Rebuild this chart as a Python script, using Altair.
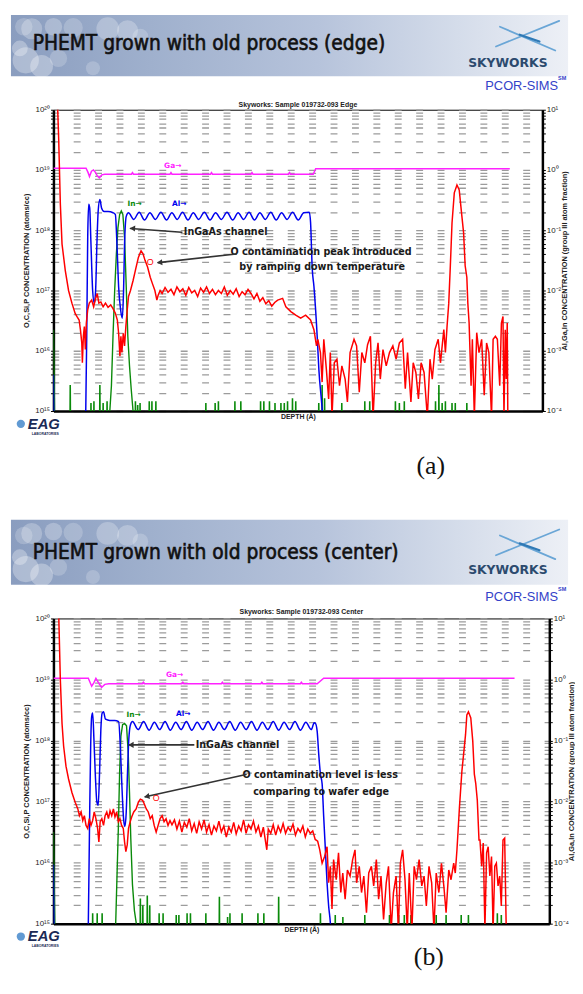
import altair as alt
import pandas as pd

SANS = "Liberation Sans, Arial, Helvetica, sans-serif"
NARROW = "DejaVu Sans Condensed, Liberation Sans Narrow, Arial Narrow, sans-serif"
SERIF = "Liberation Serif, Times New Roman, serif"
WIDE = "DejaVu Sans, Verdana, sans-serif"

# ---------------- texts ----------------
slide_titles = ["PHEMT grown with old process (edge)", "PHEMT grown with old process (center)"]
sample_titles = ["Skyworks: Sample 019732-093 Edge", "Skyworks: Sample 019732-093 Center"]
captions = ["(a)", "(b)"]
left_title = "O,C,Si,P CONCENTRATION (atoms/cc)"
right_title = "Al,Ga,In CONCENTRATION (group III atom fraction)"
x_title = "DEPTH (Å)"
left_decades = [15, 16, 17, 18, 19, 20]
left_labels = ["10¹⁵", "10¹⁶", "10¹⁷", "10¹⁸", "10¹⁹", "10²⁰"]
right_decades = [-4, -3, -2, -1, 0, 1]
right_labels = ["10⁻⁴", "10⁻³", "10⁻²", "10⁻¹", "10⁰", "10¹"]
notes_edge = ["InGaAs channel", "O contamination peak introduced", "by ramping down temperature"]
notes_center = ["InGaAs channel", "O contamination level is less", "comparing to wafer edge"]

# ---------------- data: (depth Å, log10 value) ----------------
# O (left axis, atoms/cc) -- edge
o_edge = [(37, 20.3), (53, 19.52), (70, 18.43), (87, 17.77), (120, 17.33), (153, 17.0), (187, 16.79),
          (220, 16.62), (237, 16.57), (260, 16.51), (273, 16.35), (287, 16.13), (293, 15.80), (303, 16.24),
          (313, 16.40), (323, 16.02), (333, 16.46), (347, 16.68), (363, 16.79), (387, 16.84), (407, 16.73),
          (427, 16.87), (443, 16.95), (460, 16.79), (480, 16.81), (503, 16.73), (527, 16.79), (553, 16.72),
          (580, 16.76), (603, 16.70), (627, 16.62), (647, 16.51), (660, 16.29), (673, 15.91), (683, 16.24),
          (693, 15.97), (707, 16.29), (720, 16.08), (733, 16.40), (747, 16.68), (760, 16.90), (780, 17.0),
          (807, 17.17), (833, 17.36), (860, 17.55), (887, 17.66), (907, 17.61), (927, 17.50), (953, 17.39),
          (980, 17.22), (1003, 17.11), (1027, 17.0), (1047, 16.84), (1060, 16.92), (1080, 17.0),
          (1100, 16.95), (1130, 17.05), (1160, 16.97), (1190, 17.02), (1220, 16.93), (1250, 17.06),
          (1280, 16.98), (1310, 17.03), (1340, 16.92), (1370, 17.05), (1400, 16.96), (1430, 17.0),
          (1460, 16.9), (1490, 17.04), (1520, 16.97), (1550, 17.06), (1580, 16.95), (1610, 17.02),
          (1640, 16.93), (1670, 17.0), (1700, 16.95), (1730, 17.06), (1760, 16.92), (1790, 17.0),
          (1820, 16.94), (1850, 17.03), (1880, 16.9), (1910, 16.98), (1940, 16.93), (1970, 17.02),
          (2000, 16.95), (2030, 16.86), (2060, 16.95), (2090, 16.82), (2120, 16.88), (2150, 16.78),
          (2180, 16.83), (2210, 16.74), (2240, 16.8), (2270, 16.84), (2320, 16.87), (2353, 16.73),
          (2403, 16.65), (2453, 16.59), (2503, 16.54), (2553, 16.59), (2603, 16.51), (2637, 16.35),
          (2663, 16.08), (2677, 16.19), (2703, 15.97), (2720, 15.48), (2737, 16.19), (2763, 15.69),
          (2786, 15.2), (2803, 15.97), (2820, 14.9), (2843, 15.80), (2870, 15.86), (2896, 15.42),
          (2920, 15.75), (2953, 15.53), (2976, 15.15), (3003, 15.97), (3043, 16.19), (3069, 16.08),
          (3096, 15.31), (3122, 15.97), (3152, 15.80), (3180, 16.1), (3209, 16.24), (3236, 14.9),
          (3262, 15.80), (3286, 16.13), (3309, 15.53), (3336, 16.02), (3369, 15.75), (3402, 15.97),
          (3436, 16.08), (3469, 15.86), (3502, 16.13), (3535, 16.19), (3562, 15.37), (3585, 15.97),
          (3619, 15.15), (3642, 15.80), (3669, 15.64), (3695, 15.2), (3722, 15.80), (3752, 15.64),
          (3785, 14.9), (3812, 15.86), (3835, 15.53), (3862, 16.02), (3895, 16.19), (3918, 15.80),
          (3952, 16.35), (3968, 15.97), (3985, 16.41), (4002, 16.79), (4018, 17.41), (4035, 18.12),
          (4058, 18.62), (4085, 18.75), (4108, 18.67), (4135, 18.23), (4152, 17.96), (4168, 17.41),
          (4185, 17.22), (4195, 16.79), (4208, 16.46), (4228, 15.42), (4241, 16.19), (4261, 14.9),
          (4285, 16.3), (4308, 15.97), (4335, 16.19), (4361, 15.26), (4385, 16.13), (4408, 15.97),
          (4435, 14.9), (4451, 16.19), (4474, 16.24), (4494, 16.19), (4518, 15.42), (4535, 16.46),
          (4551, 16.57), (4561, 14.9), (4574, 16.35), (4584, 15.53), (4594, 16.46), (4600, 14.9)]

# group III atom fraction (right axis) -- edge
ga_edge = [(0, 0.03), (330, 0.03), (350, -0.04), (365, -0.11), (385, -0.02), (405, 0.0), (425, -0.04),
           (445, -0.10), (465, -0.13), (490, -0.08), (520, -0.07), (790, -0.07), (800, -0.045), (810, -0.07),
           (1180, -0.07), (1190, -0.045), (1200, -0.07), (1590, -0.07), (1600, -0.045), (1610, -0.07),
           (2000, -0.07), (2010, -0.045), (2020, -0.07), (2380, -0.07), (2390, -0.045), (2400, -0.07),
           (2630, -0.07), (2655, 0.02), (4620, 0.02)]
al_edge = [(0, -3.4), (8, -4.5), (320, -4.5), (327, -4.02), (337, -2.76), (347, -1.12), (357, -0.57),
           (367, -0.63), (380, -1.23), (397, -2.0), (413, -2.21), (427, -2.0), (440, -1.23), (453, -0.68),
           (470, -0.49), (487, -0.63), (513, -0.69), (553, -0.69), (603, -0.71), (627, -0.74), (643, -1.23),
           (660, -1.94), (680, -2.32), (697, -2.46), (710, -2.0), (720, -1.23), (737, -0.77), (760, -0.71),
           (813, -0.82), (868, -0.70), (922, -0.83), (977, -0.71), (1032, -0.82), (1088, -0.70),
           (1145, -0.83), (1199, -0.71), (1253, -0.82), (1307, -0.70), (1362, -0.83), (1416, -0.71),
           (1470, -0.82), (1528, -0.70), (1585, -0.83), (1642, -0.71), (1700, -0.82), (1757, -0.70),
           (1815, -0.83), (1870, -0.71), (1925, -0.82), (1980, -0.70), (2035, -0.83), (2090, -0.71),
           (2145, -0.82), (2200, -0.70), (2255, -0.83), (2310, -0.71), (2365, -0.82), (2421, -0.70),
           (2478, -0.83), (2534, -0.71), (2590, -0.70), (2603, -0.87), (2620, -1.64), (2637, -1.93),
           (2670, -2.76), (2687, -3.31), (2720, -3.96), (2740, -4.5)]
in_edge = [(0, -2.65), (8, -3.6), (14, -4.5), (560, -4.5), (570, -4.02), (587, -3.58), (603, -2.76),
           (620, -2.0), (637, -1.4), (653, -0.96), (670, -0.74), (687, -0.68), (703, -0.74), (720, -1.12),
           (737, -1.94), (753, -2.76), (770, -3.25), (787, -3.63), (807, -4.02), (820, -4.5), (4700, -4.5)]
in_spikes_edge = [(170, -3.58), (380, -3.88), (410, -3.85), (470, -3.58), (503, -3.88), (543, -3.85),
                  (830, -3.85), (853, -3.91), (877, -3.88), (970, -3.85), (997, -3.85), (1037, -3.85),
                  (1543, -3.88), (1637, -3.88), (1670, -3.85), (1837, -3.85), (1897, -3.85), (2097, -3.85),
                  (2130, -3.85), (2187, -3.85), (2243, -3.88), (2303, -3.88), (2337, -3.88), (2370, -3.85),
                  (2420, -3.80), (2453, -3.85), (2686, -3.88), (2720, -3.58), (2745, -3.80), (2919, -3.88),
                  (3152, -3.85), (3202, -3.85), (3236, -3.88), (3462, -3.85), (3502, -3.88), (3552, -3.85),
                  (3868, -3.85), (3902, -3.58), (3935, -3.88), (3968, -3.85), (4035, -3.88), (4068, -3.88),
                  (4185, -3.88)]

# O -- center
o_center = [(53, 20.1), (70, 18.99), (87, 18.28), (103, 17.91), (127, 17.58), (153, 17.37), (187, 17.15),
            (220, 16.99), (247, 16.88), (263, 16.77), (280, 16.83), (297, 16.69), (313, 16.77), (330, 16.61),
            (347, 16.56), (363, 16.72), (380, 16.61), (397, 16.69), (413, 16.83), (430, 16.72), (447, 16.56),
            (460, 16.34), (473, 16.67), (490, 16.72), (507, 16.61), (523, 16.77), (540, 16.83), (557, 16.72),
            (573, 16.85), (590, 16.77), (607, 16.88), (623, 16.75), (640, 16.83), (657, 16.67), (673, 16.72),
            (690, 16.61), (707, 16.56), (720, 16.34), (733, 16.18), (747, 16.29), (760, 16.56), (777, 16.67),
            (793, 16.75), (813, 16.83), (837, 16.88), (860, 16.99), (880, 17.04), (903, 17.02), (920, 16.96),
            (940, 16.88), (960, 16.83), (980, 16.72), (1000, 16.77), (1020, 16.61), (1040, 16.5),
            (1060, 16.61), (1080, 16.72), (1100, 16.77), (1120, 16.67), (1140, 16.72), (1160, 16.61),
            (1180, 16.69), (1200, 16.62), (1225, 16.7), (1250, 16.55), (1275, 16.68), (1300, 16.5),
            (1325, 16.66), (1350, 16.58), (1375, 16.72), (1400, 16.52), (1425, 16.64), (1450, 16.48),
            (1475, 16.67), (1500, 16.55), (1525, 16.7), (1550, 16.5), (1575, 16.62), (1600, 16.45),
            (1625, 16.6), (1650, 16.52), (1675, 16.68), (1700, 16.5), (1725, 16.6), (1750, 16.42),
            (1775, 16.58), (1800, 16.5), (1825, 16.66), (1850, 16.47), (1875, 16.6), (1900, 16.52),
            (1925, 16.7), (1950, 16.48), (1975, 16.62), (2000, 16.55), (2025, 16.68), (2050, 16.5),
            (2075, 16.6), (2100, 16.42), (2125, 16.58), (2160, 16.21), (2175, 16.55), (2200, 16.48),
            (2225, 16.62), (2250, 16.45), (2275, 16.6), (2300, 16.5), (2325, 16.64), (2350, 16.48),
            (2375, 16.58), (2400, 16.52), (2425, 16.63), (2450, 16.45), (2475, 16.56), (2500, 16.5),
            (2525, 16.6), (2550, 16.42), (2575, 16.55), (2600, 16.48), (2625, 16.52), (2650, 16.38),
            (2675, 16.35), (2696, 16.21), (2720, 15.99), (2745, 16.1), (2770, 16.26), (2786, 15.67),
            (2803, 15.94), (2820, 15.24), (2836, 16.05), (2863, 15.72), (2886, 16.16), (2909, 15.51),
            (2929, 15.83), (2953, 15.4), (2976, 15.88), (3003, 15.78), (3029, 16.05), (3053, 16.21),
            (3069, 15.67), (3096, 15.94), (3119, 15.51), (3142, 15.78), (3169, 15.18), (3192, 15.83),
            (3219, 15.94), (3242, 15.62), (3269, 16.05), (3292, 15.4), (3316, 15.78), (3342, 15.07),
            (3369, 15.67), (3392, 15.94), (3419, 14.9), (3442, 15.51), (3469, 15.78), (3492, 14.9),
            (3512, 15.99), (3535, 16.21), (3559, 15.72), (3582, 14.9), (3602, 15.83), (3629, 14.9),
            (3652, 15.94), (3675, 15.72), (3702, 16.05), (3729, 15.62), (3752, 15.78), (3775, 15.29),
            (3802, 15.94), (3829, 15.67), (3852, 14.9), (3875, 15.83), (3902, 15.51), (3928, 15.99),
            (3952, 15.62), (3975, 15.18), (4002, 15.88), (4025, 15.72), (4052, 15.99), (4068, 15.83),
            (4085, 16.21), (4110, 16.9), (4135, 17.5), (4160, 17.9), (4172, 18.1), (4185, 18.42),
            (4201, 18.47), (4225, 18.37), (4245, 17.99), (4261, 17.45), (4275, 17.3), (4291, 17.02),
            (4308, 16.37), (4318, 16.37), (4335, 15.94), (4351, 16.32), (4368, 14.9), (4385, 16.16),
            (4401, 16.26), (4418, 15.78), (4435, 16.1), (4451, 14.9), (4468, 15.94), (4484, 15.99),
            (4501, 15.62), (4518, 15.78), (4534, 15.29), (4551, 16.37), (4568, 16.4), (4584, 14.9),
            (4600, 14.9)]

ga_center = [(0, 0.02), (353, 0.02), (387, -0.11), (410, -0.05), (430, 0.02), (463, -0.07), (487, -0.13),
             (520, -0.08), (560, -0.07), (900, -0.07), (910, -0.045), (920, -0.07), (1300, -0.07),
             (1310, -0.045), (1320, -0.07), (1700, -0.07), (1710, -0.045), (1720, -0.07), (2100, -0.07),
             (2110, -0.045), (2120, -0.07), (2500, -0.07), (2510, -0.045), (2520, -0.07), (2670, -0.07),
             (2736, 0.02), (4668, 0.02)]
al_center = [(0, -3.03), (10, -4.5), (345, -4.5), (353, -4.01), (367, -2.17), (377, -1.09), (387, -0.61),
             (397, -0.55), (410, -0.98), (423, -1.52), (440, -2.01), (453, -2.06), (467, -1.52), (480, -0.82),
             (493, -0.55), (507, -0.53), (527, -0.65), (570, -0.67), (620, -0.67), (660, -0.69), (677, -1.09),
             (693, -1.74), (710, -2.28), (723, -2.41), (737, -2.17), (750, -1.52), (763, -0.98), (780, -0.74),
             (800, -0.69), (858, -0.82), (913, -0.69), (968, -0.83), (1022, -0.70), (1075, -0.82),
             (1130, -0.69), (1183, -0.83), (1238, -0.70), (1292, -0.82), (1346, -0.69), (1400, -0.83),
             (1455, -0.70), (1510, -0.82), (1565, -0.69), (1620, -0.83), (1675, -0.70), (1730, -0.82),
             (1785, -0.69), (1840, -0.83), (1895, -0.70), (1950, -0.82), (2005, -0.69), (2060, -0.83),
             (2115, -0.70), (2170, -0.82), (2225, -0.69), (2280, -0.83), (2335, -0.70), (2390, -0.82),
             (2445, -0.69), (2500, -0.83), (2555, -0.70), (2610, -0.82), (2640, -0.71), (2653, -0.72),
             (2670, -0.85), (2686, -1.23), (2703, -1.55), (2720, -1.71), (2736, -2.25), (2753, -2.79),
             (2770, -3.33), (2786, -3.71), (2803, -3.98), (2820, -4.5)]
in_center = [(0, -2.5), (12, -3.8), (18, -4.5), (620, -4.5), (630, -4.01), (643, -3.25), (657, -2.44),
             (670, -1.52), (683, -0.93), (700, -0.74), (720, -0.72), (740, -0.76), (757, -1.2), (770, -1.85),
             (783, -2.6), (800, -3.36), (820, -3.79), (840, -4.01), (850, -4.5), (4700, -4.5)]
in_spikes_center = [(397, -3.84), (443, -3.84), (493, -3.84), (880, -3.6), (905, -3.71), (950, -3.55),
                    (975, -3.71), (1070, -3.84), (1110, -3.84), (1243, -3.87), (1270, -3.87), (1353, -3.84),
                    (1387, -3.84), (1543, -3.84), (1680, -3.57), (1763, -3.9), (1787, -3.84), (1910, -3.84),
                    (2070, -3.84), (2130, -3.84), (2280, -3.57), (2703, -3.84), (2853, -3.87), (2930, -3.9),
                    (3152, -3.87), (3402, -3.87), (3495, -3.87), (3552, -3.87), (3619, -3.87), (3875, -3.87),
                    (3975, -3.87), (4128, -3.87), (4201, -3.87), (4451, -3.87), (4494, -3.84), (4534, -3.87)]

# ---------------- helpers ----------------
one = pd.DataFrame({"k": [0]})


def ticks(lo, hi):
    vals = []
    for k in range(lo, hi):
        for m in range(1, 10):
            vals.append(float(f"{m}e{k}"))
    vals.append(float(f"1e{hi}"))
    return vals


def label_expr(decades, labels):
    parts = [f"abs(log(datum.value)/LN10 - ({d})) < 0.001 ? '{l}'" for d, l in zip(decades, labels)]
    return " : ".join(parts) + " : ''"


def T(x, y, s, size, color="#111111", font=SANS, weight="normal", align="left", style="normal", sw=0):
    kw = dict(text=s, fontSize=size, color=color, font=font, fontWeight=weight, align=align,
              baseline="middle", fontStyle=style)
    if sw > 0:
        kw.update(stroke=color, strokeWidth=sw)
    return alt.Chart(one).mark_text(**kw).encode(x=alt.value(x), y=alt.value(y))


def R(x1, y1, x2, y2, color="#333333", w=1.6):
    return alt.Chart(one).mark_rule(color=color, strokeWidth=w, strokeCap="round").encode(
        x=alt.value(x1), y=alt.value(y1), x2=alt.value(x2), y2=alt.value(y2))


def head(x, y, ang):
    return alt.Chart(one).mark_point(shape="triangle-left", filled=True, size=38, color="#333333",
                                     opacity=1, angle=ang).encode(x=alt.value(x), y=alt.value(y))


def blob(x, y, r, op=0.3):
    return alt.Chart(one).mark_circle(color="white", opacity=op, size=3.1416 * r * r).encode(
        x=alt.value(x), y=alt.value(y))


def in_series(main, spikes):
    pts = list(main)
    for d, top in spikes:
        pts += [(d - 4, -4.5), (d - 1, top), (d + 1, top), (d + 4, -4.5)]
    return sorted(pts)


def make_panel(idx, o_pts, ga_pts, al_pts, in_main, spikes, W, H, dmax, L, notes):
    xscale = alt.Scale(domain=[0, dmax], nice=False, zero=False)
    xaxis = alt.Axis(orient="bottom", labels=False, ticks=False, grid=False, domainColor="black",
                     domainWidth=2.5, title=x_title, titleFontSize=7, titleFontWeight="bold", titleFont=SANS,
                     titleColor="#222222", titleX=W / 2, titleY=6, titleBaseline="middle", titleAlign="center")
    laxis = alt.Axis(orient="left", values=ticks(15, 20), labelExpr=label_expr(left_decades, left_labels),
                     labelOverlap=False, labelFontSize=8, labelFont=SANS, labelColor="#222222", labelPadding=1,
                     tickSize=3, tickColor="black", domainColor="black", domainWidth=2.5,
                     grid=True, gridColor="#9c9c9c", gridWidth=1.3, gridDash=[7, 14.67], gridDashOffset=1.67,
                     title=left_title, titleFontSize=7.5, titleFontWeight="bold", titleFont=SANS,
                     titleColor="#222222", titleAngle=270, titleX=-27, titleY=H / 2, titleAlign="center",
                     titleBaseline="middle")
    raxis = alt.Axis(orient="right", values=ticks(-4, 1), labelExpr=label_expr(right_decades, right_labels),
                     labelOverlap=False, labelFontSize=8, labelFont=SANS, labelColor="#222222", labelPadding=1,
                     tickSize=3, tickColor="black", domainColor="black", domainWidth=2.5, grid=False,
                     title=right_title, titleFontSize=7.5, titleFontWeight="bold", titleFont=SANS,
                     titleColor="#222222", titleAngle=270, titleX=22, titleY=H / 2, titleAlign="center",
                     titleBaseline="middle")

    rscale = alt.Scale(type="log", domain=[1e-4, 10], nice=False)

    def right_line(pts, color, w=1.5, interp="linear"):
        df = pd.DataFrame(pts, columns=["depth", "r"])
        return alt.Chart(df).transform_calculate(f="pow(10, datum.r)").mark_line(
            color=color, strokeWidth=w, clip=True, interpolate=interp).encode(
            x=alt.X("depth:Q", scale=xscale, axis=xaxis),
            y=alt.Y("f:Q", scale=rscale, axis=raxis))

    right_group = alt.layer(
        right_line(in_series(in_main, spikes), "#0a8a0a", 1.4),
        right_line(al_pts, "#0000ee", 1.5, "monotone"),
        right_line(ga_pts, "#ff22ff"),
    )

    odf = pd.DataFrame(o_pts, columns=["depth", "e"])
    red = alt.Chart(odf).transform_calculate(v="pow(10, datum.e)").mark_line(
        color="#ff0000", strokeWidth=1.5, clip=True).encode(
        x=alt.X("depth:Q", scale=xscale, axis=xaxis),
        y=alt.Y("v:Q", scale=alt.Scale(type="log", domain=[1e15, 1e20], nice=False), axis=laxis))

    bt = L["bt"]
    banner = alt.Chart(one).mark_rect(
        fill=alt.Gradient(gradient="linear", x1=0, x2=1, y1=0, y2=0, stops=[
            alt.GradientStop(color="#8a9dbf", offset=0.0),
            alt.GradientStop(color="#9fb0cd", offset=0.25),
            alt.GradientStop(color="#b6c3db", offset=0.55),
            alt.GradientStop(color="#d4dcea", offset=0.8),
            alt.GradientStop(color="#edf0f6", offset=1.0)])).encode(
        x=alt.value(-43), x2=alt.value(521), y=alt.value(bt), y2=alt.value(-34))
    clouds = [blob(-28, -50, 15), blob(-12, -44, 13), blob(-34, -62, 9), blob(5, -52, 10, 0.2),
              blob(-22, bt + 14, 12, 0.25), blob(0, bt + 12, 10, 0.25), blob(20, bt + 13, 11, 0.2),
              blob(55, bt + 14, 13, 0.25), blob(75, bt + 16, 12, 0.25), blob(88, bt + 22, 9, 0.2),
              blob(40, -42, 8, 0.2), blob(-30, -84, 10, 0.2)]

    ty = L["ty"]
    deco = [banner] + clouds + [
        T(-21, ty, slide_titles[idx], 21, "#111111", NARROW, sw=0.6),
        R(448, ty + 2, 512, ty - 24, "#6aa6d6", 1.8), R(452, ty - 18, 508, ty + 6, "#6aa6d6", 1.8),
        R(472, ty - 10, 492, ty - 3, "#2f79b5", 2.2),
        T(460, L["sky"], "SKYWORKS", 12.5, "#2c4a6e", WIDE, "bold", "center"),
        T(474, L["pcor"], "PCOR-SIMS", 13, "#3342c8", SANS, "normal", "center"),
        T(515, L["pcor"] - 8, "SM", 5.5, "#3342c8", SANS, "bold", "center"),
        T(W / 2, L["st"], sample_titles[idx], 7, "#222222", SANS, "bold", "center"),
    ]

    ann = [
        T(L["ga"][0], L["ga"][1], "Ga→", 7.5, "#ff22ff", WIDE, "bold"),
        T(L["inl"][0], L["inl"][1], "In→", 7.5, "#0a8a0a", WIDE, "bold"),
        T(L["al"][0], L["al"][1], "Al→", 7.5, "#0000ee", WIDE, "bold"),
        T(L["ch"][0], L["ch"][1], notes[0], 10.8, "#1a1a1a", NARROW, "bold"),
        R(*L["a1"]), head(*L["h1"]),
        T(L["n1"][0], L["n1"][1], notes[1], 10.8, "#1a1a1a", NARROW, "bold", "center"),
        T(L["n2"][0], L["n2"][1], notes[2], 10.8, "#1a1a1a", NARROW, "bold", "center"),
        R(*L["a2"]), head(*L["h2"]),
        T(L["o"][0], L["o"][1], "O", 9, "#ff0000", SANS, "normal", "center"),
        alt.Chart(one).mark_point(shape="circle", filled=True, size=70, color="#1e6fc0").encode(
            x=alt.value(-33), y=alt.value(L["eag"])),
        T(-26, L["eag"], "EAG", 15, "#1b2a55", SANS, "bold", "left", "italic"),
        T(-22, L["eag"] + 10, "LABORATORIES", 3.5, "#1b2a55", SANS, "bold"),
        T(L["cap"][0], L["cap"][1], captions[idx], 26, "#111111", SERIF, "normal", "center"),
    ]

    return alt.layer(right_group, red, *deco, *ann).resolve_scale(y="independent").properties(
        width=W, height=H)


lay_a = dict(bt=-96, ty=-66, sky=-47, pcor=-24, st=-5, ga=(112, 57), inl=(75, 95), al=(120, 95),
             ch=(132, 124), a1=(130, 124, 78, 120.2), h1=(80, 120.1, 4), n1=(271, 144), n2=(272, 159),
             a2=(185, 146, 106, 154.8), h2=(107.5, 154.6, 354), o=(98, 154), eag=318, cap=(382, 361))
lay_b = dict(bt=-100, ty=-66, sky=-49, pcor=-22, st=-7, ga=(114, 57), inl=(74, 98), al=(124, 97),
             ch=(144, 128), a1=(142, 128, 77, 128), h1=(78.5, 128, 0), n1=(270, 159), n2=(271, 176),
             a2=(195, 158, 93, 180.6), h2=(94.5, 180.3, 347.5), o=(104, 182), eag=322, cap=(380, 343))

pa = make_panel(0, o_edge, ga_edge, al_edge, in_edge, in_spikes_edge, 495, 305, 4950, lay_a, notes_edge)
pb = make_panel(1, o_center, ga_center, al_center, in_center, in_spikes_center, 502, 309, 5020, lay_b,
                notes_center)

chart = alt.vconcat(pa, pb, spacing=210, bounds="flush").properties(
    padding={"left": 2, "top": 0, "right": 0, "bottom": 0}
).configure_view(stroke="black", strokeWidth=1)

chart.save("out.html", embed_options={"renderer": "svg", "actions": False})
